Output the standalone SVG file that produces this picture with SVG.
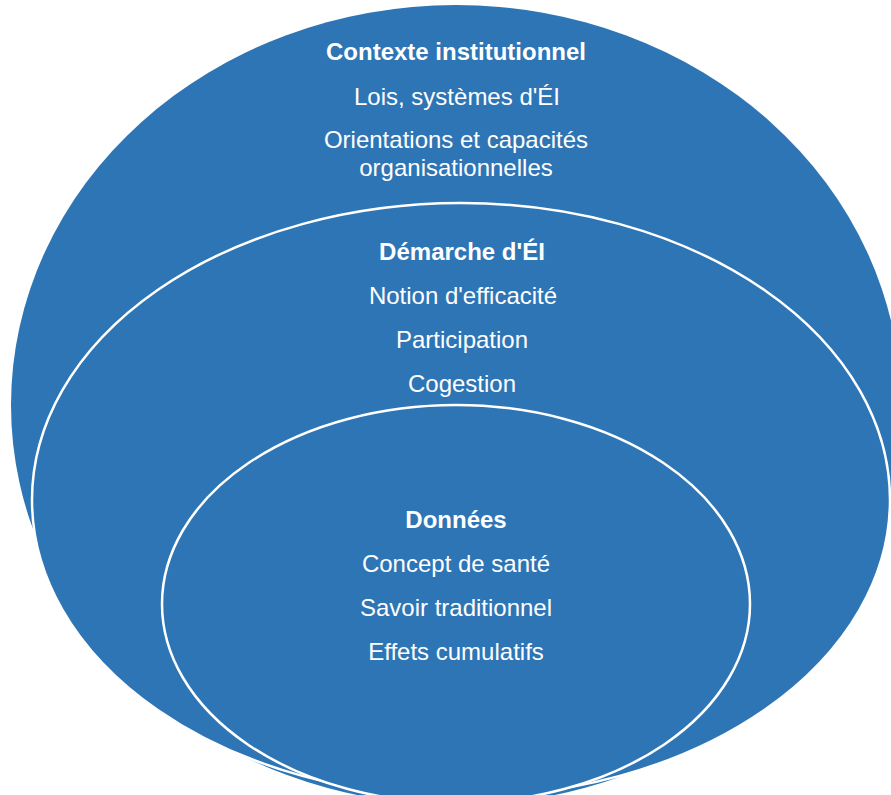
<svg xmlns="http://www.w3.org/2000/svg" width="891" height="795" viewBox="0 0 891 795">
<style>
.e{fill:#2E75B5}
.s{stroke:#FFFFFF;stroke-width:2.5}
text{font-family:"Liberation Sans",Arial,sans-serif;fill:#FFFFFF;font-size:24px;text-anchor:middle}
.b{font-weight:bold}
</style>
<rect width="891" height="795" fill="#FFFFFF"/>
<g id="contexte">
<ellipse class="e" cx="456" cy="405" rx="445" ry="400"/>
<text class="b" x="456" y="60">Contexte institutionnel</text>
<text x="457" y="105">Lois, systèmes d'ÉI</text>
<text x="456" y="148">Orientations et capacités</text>
<text x="456" y="176">organisationnelles</text>
</g>
<g id="demarche">
<ellipse class="e s" cx="461" cy="500" rx="429" ry="297"/>
<text class="b" x="462" y="260">Démarche d'ÉI</text>
<text x="463" y="304">Notion d'efficacité</text>
<text x="462" y="348">Participation</text>
<text x="462" y="392">Cogestion</text>
</g>
<g id="donnees">
<ellipse class="e s" cx="456" cy="604" rx="294" ry="199"/>
<text class="b" x="456" y="528">Données</text>
<text x="456" y="572">Concept de santé</text>
<text x="456" y="616">Savoir traditionnel</text>
<text x="456" y="660">Effets cumulatifs</text>
</g>
<g id="connectors"/>
</svg>
